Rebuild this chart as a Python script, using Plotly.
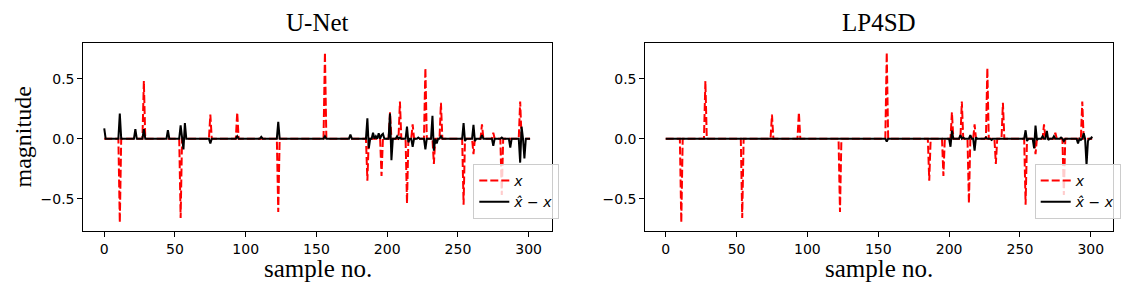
"""
Sparse signal vs. reconstruction error, U-Net and LP4SD side by side
"""
import plotly.graph_objects as go

# samples 0..301
n_samples = 302

# ground-truth sparse signal x (index, value)
x_idx = [11, 28, 54, 75, 94, 123, 156, 186, 196, 202, 209, 214, 218, 227,
         233, 238, 254, 261, 267, 275, 281, 294]
x_val = [-0.70, 0.48, -0.66, 0.20, 0.22, -0.61, 0.72, -0.35, -0.31, 0.22,
         0.31, -0.54, 0.12, 0.59, -0.21, 0.30, -0.55, -0.13, 0.12, 0.05,
         -0.47, 0.31]

# U-Net residual x_hat - x
unet_idx = [0, 11, 22, 28, 45, 54, 56, 57, 75, 94, 111, 123, 156, 174, 186,
            187, 190, 192, 194, 196, 197, 202, 203, 207, 209, 214, 215, 218,
            222, 227, 232, 233, 235, 238, 254, 255, 261, 262, 267, 275, 281,
            287, 294, 295, 297]
unet_val = [0.085, 0.21, 0.08, 0.08, 0.07, 0.11, -0.09, 0.13, -0.04, 0.02,
            0.015, 0.14, 0.02, 0.035, 0.17, -0.08, 0.05, 0.02, 0.045, 0.03,
            0.04, 0.21, -0.18, 0.02, 0.01, 0.10, -0.03, -0.067, 0.01, -0.09,
            0.19, -0.10, -0.04, 0.02, 0.13, -0.02, 0.115, -0.02, 0.03, -0.06,
            0.01, -0.075, -0.20, 0.10, -0.165]

# LP4SD residual x_hat - x
lp_idx = [156, 201, 202, 208, 210, 215, 218, 219, 226, 230, 254, 255, 260,
          261, 262, 266, 269, 270, 274, 279, 281, 291, 293, 295, 297, 298, 301]
lp_val = [-0.025, -0.067, 0.067, 0.03, 0.01, 0.03, -0.10, 0.01, 0.01, -0.01,
          0.07, -0.02, -0.08, 0.11, -0.01, 0.02, 0.065, -0.01, 0.02, 0.01,
          -0.02, -0.04, -0.01, 0.045, -0.22, -0.02, 0.017]

panel_titles = ['U-Net', 'LP4SD']
x_ticks = [0, 50, 100, 150, 200, 250, 300]
y_ticks = [-0.5, 0.0, 0.5]
y_ticktext = ['\u22120.5', '0.0', '0.5']


def dense(idx, val):
    out = [0.0] * n_samples
    for i, v in zip(idx, val):
        out[i] = v
    return out


# the page body has an 8px margin, so the figure is drawn 8px smaller
# and all pixel positions below are measured on the full 1134x294 window
OFF = 8
W, H = 1134 - OFF, 294 - OFF


def px(x):
    return (x - OFF) / W


def py(y):
    return 1 - (y - OFF) / H


samples = list(range(n_samples))
x_sig = dense(x_idx, x_val)
residuals = [dense(unet_idx, unet_val), dense(lp_idx, lp_val)]

domains = [[px(83.3), px(552)], [px(645.3), px(1113.3)]]
y_dom = [py(231.3), py(42.7)]
legend_right = [px(559.3), px(1120.7)]

fig = go.Figure()

for k in range(2):
    xa = 'x' if k == 0 else 'x2'
    ya = 'y' if k == 0 else 'y2'
    lg = 'legend' if k == 0 else 'legend2'
    fig.add_trace(go.Scatter(
        x=samples, y=x_sig, mode='lines', name='<i>x</i>',
        line=dict(color='#ff0000', width=2, dash='8px,3px'),
        xaxis=xa, yaxis=ya, legend=lg
    ))
    fig.add_trace(go.Scatter(
        x=samples, y=residuals[k], mode='lines',
        name='<i>x\u0302</i> \u2212 <i>x</i>',
        line=dict(color='#000000', width=2),
        xaxis=xa, yaxis=ya, legend=lg
    ))

axis_common = dict(
    showline=True, mirror=True, linecolor='black', linewidth=1,
    showgrid=False, zeroline=False, ticks='outside', ticklen=5,
    tickwidth=1, tickcolor='black',
    tickfont=dict(family='DejaVu Sans', size=14, color='black'),
)

legend_common = dict(
    xanchor='right', yanchor='bottom', y=py(219),
    bgcolor='rgba(255,255,255,0.8)', bordercolor='#cccccc', borderwidth=1,
    font=dict(family='DejaVu Sans', size=14, color='black'),
    itemwidth=30, tracegroupgap=0,
)

fig.update_layout(
    width=W, height=H,
    margin=dict(l=0, r=0, t=0, b=0),
    paper_bgcolor='white', plot_bgcolor='white',
    xaxis=dict(domain=domains[0], range=[-14.8, 316.5], tickvals=x_ticks,
               anchor='y', **axis_common),
    yaxis=dict(domain=y_dom, range=[-0.772, 0.80], tickvals=y_ticks,
               ticktext=y_ticktext, anchor='x', **axis_common),
    xaxis2=dict(domain=domains[1], range=[-14.4, 315.9], tickvals=x_ticks,
                anchor='y2', **axis_common),
    yaxis2=dict(domain=y_dom, range=[-0.772, 0.80], tickvals=y_ticks,
                ticktext=y_ticktext, anchor='x2', **axis_common),
    legend=dict(x=legend_right[0], **legend_common),
    legend2=dict(x=legend_right[1], **legend_common),
    showlegend=True,
)

serif = dict(family='Liberation Serif', size=25, color='black')
for k in range(2):
    cx = (domains[k][0] + domains[k][1]) / 2
    fig.add_annotation(text=panel_titles[k], x=cx, y=py(22),
                       xref='paper', yref='paper', showarrow=False,
                       xanchor='center', yanchor='middle', font=serif)
    fig.add_annotation(text='sample no.', x=cx, y=py(268),
                       xref='paper', yref='paper', showarrow=False,
                       xanchor='center', yanchor='middle', font=serif)

fig.add_annotation(text='magnitude', x=px(8.5), y=py(137),
                   xref='paper', yref='paper', showarrow=False, textangle=-90,
                   xanchor='left', yanchor='middle', borderpad=0,
                   font=dict(family='Liberation Serif', size=24,
                             color='black'))

fig.write_html("out.html")
